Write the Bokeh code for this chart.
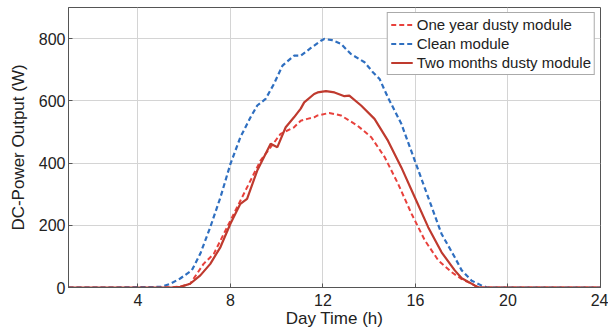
from bokeh.plotting import figure
from bokeh.models import FixedTicker, Range1d, Legend, LegendItem
from bokeh.embed import file_html
from bokeh.resources import INLINE

# Clean module
t_clean = [1, 3, 5.0, 5.4, 5.83, 6.33, 6.7, 7.13, 7.57, 8.0, 8.43, 8.87, 9.16, 9.52, 9.88,
           10.25, 10.75, 11.04, 11.48, 11.91, 12.06, 12.4, 12.78, 13.2, 13.8, 14.16, 14.45,
           14.81, 15.39, 15.97, 16.55, 17.13, 17.7, 18.0, 18.43, 18.87, 19.1, 21, 24]
p_clean = [0, 0, 2, 12, 29, 55, 109, 194, 290, 397, 483, 547, 585, 606, 654,
           713, 745, 745, 770, 793, 799, 795, 783, 751, 724, 692, 670,
           611, 526, 408, 290, 172, 97, 55, 22, 6, 0, 0, 0]

# One year dusty module
t_year = [1, 3, 5.5, 5.9, 6.26, 6.84, 7.28, 8.0, 8.43, 8.87, 9.3, 9.74, 10.17, 10.75,
          11.04, 11.33, 11.62, 11.77, 12.27, 12.78, 13.5, 14.09, 14.67, 15.25, 15.83,
          16.41, 16.99, 17.57, 18.0, 18.43, 18.7, 21, 24]
p_year = [0, 0, 1, 4, 12, 76, 108, 215, 279, 344, 408, 451, 494, 515,
          536, 542, 547, 553, 561, 553, 520, 483, 419, 333, 237,
          151, 87, 49, 27, 12, 0, 0, 0]

# Two months dusty module
t_two = [1, 3, 5.5, 5.83, 6.26, 6.7, 7.13, 7.57, 8.0, 8.43, 8.72, 9.16, 9.74, 10.03,
         10.39, 10.75, 11.04, 11.19, 11.62, 11.77, 12.13, 12.5, 12.93, 13.14, 13.65,
         14.23, 14.81, 15.39, 15.97, 16.55, 17.13, 17.7, 18.0, 18.58, 18.75, 21, 24]
p_two = [0, 0, 0, 2, 12, 39, 76, 130, 205, 269, 285, 376, 462, 451,
         515, 547, 575, 595, 622, 627, 631, 627, 615, 617, 585,
         542, 472, 386, 290, 194, 113, 55, 30, 6, 0, 0, 0]

x_ticks = [4, 8, 12, 16, 20, 24]
y_ticks = [0, 200, 400, 600, 800]

FONT = "Liberation Sans"

p = figure(width=608, height=331, output_backend="svg", toolbar_location=None,
           x_range=Range1d(1, 24), y_range=Range1d(0, 900),
           min_border_left=68, min_border_right=8, min_border_top=7, min_border_bottom=44)

r_year = p.line(t_year, p_year, line_color="#e8413c", line_width=2, line_dash="5 3")
r_clean = p.line(t_clean, p_clean, line_color="#2f6fc0", line_width=2.2, line_dash="5 3")
r_two = p.line(t_two, p_two, line_color="#bf3a2e", line_width=2.2)

p.xaxis.ticker = FixedTicker(ticks=x_ticks)
p.yaxis.ticker = FixedTicker(ticks=y_ticks)
p.xaxis.axis_label = "Day Time (h)"
p.yaxis.axis_label = "DC-Power Output (W)"
for ax in (p.xaxis[0], p.yaxis[0]):
    ax.axis_label_text_font = FONT
    ax.axis_label_text_font_size = "17px"
    ax.axis_label_text_font_style = "normal"
    ax.axis_label_text_color = "#222222"
    ax.major_label_text_font = FONT
    ax.major_label_text_font_size = "16px"
    ax.major_label_text_color = "#222222"
    ax.axis_line_color = "#555555"
    ax.major_tick_in = 4
    ax.major_tick_out = 0
    ax.major_tick_line_color = "#555555"
    ax.minor_tick_line_color = None
p.xaxis.axis_label_standoff = 0
p.yaxis.axis_label_standoff = 8
p.xaxis.major_label_standoff = 6
p.yaxis.major_label_standoff = 3

p.xgrid.ticker = FixedTicker(ticks=x_ticks)
p.ygrid.ticker = FixedTicker(ticks=y_ticks)
p.grid.grid_line_color = "#d4d4d4"
p.grid.grid_line_width = 1
p.outline_line_color = "#555555"
p.outline_line_alpha = 1

legend = Legend(items=[
    LegendItem(label="One year dusty module", renderers=[r_year]),
    LegendItem(label="Clean module", renderers=[r_clean]),
    LegendItem(label="Two months dusty module", renderers=[r_two]),
], location="top_right")
legend.label_text_font = FONT
legend.label_text_font_size = "15px"
legend.label_text_color = "#222222"
legend.label_height = 17
legend.glyph_height = 17
legend.glyph_width = 22
legend.spacing = 2
legend.padding = 3
legend.margin = 5
legend.label_standoff = 4
legend.border_line_color = "#555555"
legend.border_line_width = 1
legend.background_fill_alpha = 1
p.add_layout(legend)

open("out.html", "w").write(file_html(p, INLINE))
